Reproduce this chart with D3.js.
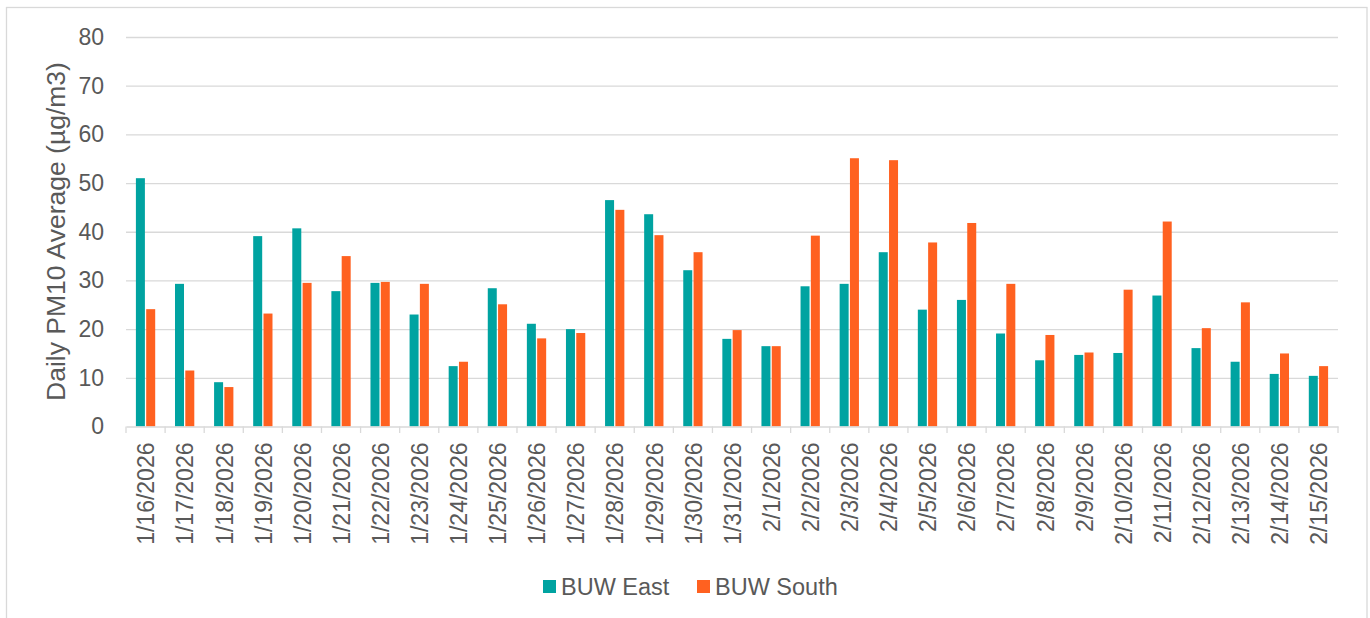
<!DOCTYPE html>
<html>
<head>
<meta charset="utf-8">
<script src="https://cdn.jsdelivr.net/npm/d3@7"></script>
<style>
  html, body { margin: 0; padding: 0; background: #fff; }
  svg { display: block; font-family: "Liberation Sans", Arial, sans-serif; }
</style>
</head>
<body>
<svg id="chart" width="1370" height="618"></svg>
<script>
const categories = ["1/16/2026","1/17/2026","1/18/2026","1/19/2026","1/20/2026","1/21/2026","1/22/2026","1/23/2026","1/24/2026","1/25/2026","1/26/2026","1/27/2026","1/28/2026","1/29/2026","1/30/2026","1/31/2026","2/1/2026","2/2/2026","2/3/2026","2/4/2026","2/5/2026","2/6/2026","2/7/2026","2/8/2026","2/9/2026","2/10/2026","2/11/2026","2/12/2026","2/13/2026","2/14/2026","2/15/2026"];
const seriesNames = ["BUW East", "BUW South"];
const eastValues  = [51.0,29.3,9.1,39.1,40.7,27.8,29.5,23.0,12.4,28.4,21.1,20.0,46.5,43.6,32.1,18.0,16.5,28.8,29.3,35.8,24.0,26.0,19.1,13.6,14.7,15.1,26.9,16.1,13.3,10.8,10.4];
const southValues = [24.1,11.5,8.1,23.2,29.5,35.0,29.7,29.3,13.3,25.1,18.1,19.2,44.5,39.3,35.8,19.8,16.5,39.2,55.1,54.7,37.8,41.8,29.3,18.8,15.2,28.1,42.1,20.2,25.5,15.0,12.4];
const yTicks = [0,10,20,30,40,50,60,70,80];
const yTitle = "Daily PM10 Average (\u00b5g/m3)";
const seriesColors = ["#00A3A1", "#FF6120"];

(function () {
  const svg = d3.select("#chart");
  const plotLeft = 126, plotRight = 1338, plotTop = 37, plotBottom = 426.5;
  const gridColor = "#d9d9d9", textColor = "#595959";
  const fam = "'Liberation Sans', Arial, sans-serif";

  // chart border
  svg.append("rect").attr("x", 6.5).attr("y", 7.5).attr("width", 1360.5).attr("height", 630)
    .attr("fill", "none").attr("stroke", gridColor).attr("stroke-width", 1.3);

  const x = d3.scaleBand().domain(categories).range([plotLeft, plotRight]).padding(0);
  const x1 = d3.scaleBand().domain(seriesNames).range([0, x.bandwidth()])
    .paddingInner(0.126).paddingOuter(0.961);
  const y = d3.scaleLinear().domain([0, 80]).range([plotBottom, plotTop]);

  // gridlines + y tick labels
  const yAxis = d3.axisLeft(y).tickValues(yTicks).tickSize(-(plotRight - plotLeft)).tickPadding(22).tickFormat(d3.format("d"));
  const gy = svg.append("g").attr("transform", `translate(${plotLeft},0)`).call(yAxis);
  gy.select(".domain").remove();
  gy.selectAll(".tick line").attr("stroke", gridColor).attr("stroke-width", 1.3)
    .filter(d => d === 0).remove();
  gy.selectAll(".tick text").attr("fill", textColor).attr("font-size", "23px")
    .attr("font-family", fam);

  // bars
  const rows = categories.map((c, i) => ({ cat: c, vals: [eastValues[i], southValues[i]] }));
  const groups = svg.append("g").selectAll("g").data(rows).join("g")
    .attr("transform", d => `translate(${x(d.cat)},0)`);
  groups.selectAll("rect").data(d => d.vals.map((v, j) => ({ key: seriesNames[j], v, j })))
    .join("rect")
    .attr("x", d => x1(d.key))
    .attr("width", x1.bandwidth())
    .attr("y", d => y(d.v))
    .attr("height", d => y(0) - y(d.v))
    .attr("fill", d => seriesColors[d.j]);

  // x axis
  const xAxis = d3.axisBottom(x).tickSize(0).tickPadding(0);
  const gx = svg.append("g").attr("transform", `translate(0,${plotBottom})`).call(xAxis);
  gx.select(".domain").attr("stroke", gridColor).attr("stroke-width", 1.3);
  gx.selectAll(".tick text")
    .attr("fill", textColor).attr("font-size", "23px")
    .attr("font-family", fam)
    .attr("text-anchor", "end")
    .attr("transform", "translate(0.5,16) rotate(-90)")
    .attr("x", 0).attr("y", 0).attr("dy", "0.36em");
  // boundary tick marks
  const bounds = categories.map(c => x(c)).concat([plotRight]);
  svg.append("g").selectAll("line").data(bounds).join("line")
    .attr("x1", d => d).attr("x2", d => d)
    .attr("y1", plotBottom).attr("y2", plotBottom + 6.5)
    .attr("stroke", gridColor).attr("stroke-width", 1.3);

  // y title
  svg.append("text")
    .attr("transform", `translate(64.5,231.5) rotate(-90)`)
    .attr("text-anchor", "middle")
    .attr("fill", textColor).attr("font-size", "26.5px")
    .attr("font-family", fam)
    .text(yTitle);

  // legend
  const legendItems = [{ name: seriesNames[0], x: 543 }, { name: seriesNames[1], x: 697 }];
  const lg = svg.append("g").selectAll("g").data(legendItems).join("g")
    .attr("transform", d => `translate(${d.x},580)`);
  lg.append("rect").attr("width", 13).attr("height", 13)
    .attr("fill", (d, i) => seriesColors[i]);
  lg.append("text").attr("x", 18).attr("y", 6.5).attr("dy", "0.36em")
    .attr("fill", textColor).attr("font-size", "23.5px").attr("font-family", fam)
    .text(d => d.name);
})();
</script>
</body>
</html>
